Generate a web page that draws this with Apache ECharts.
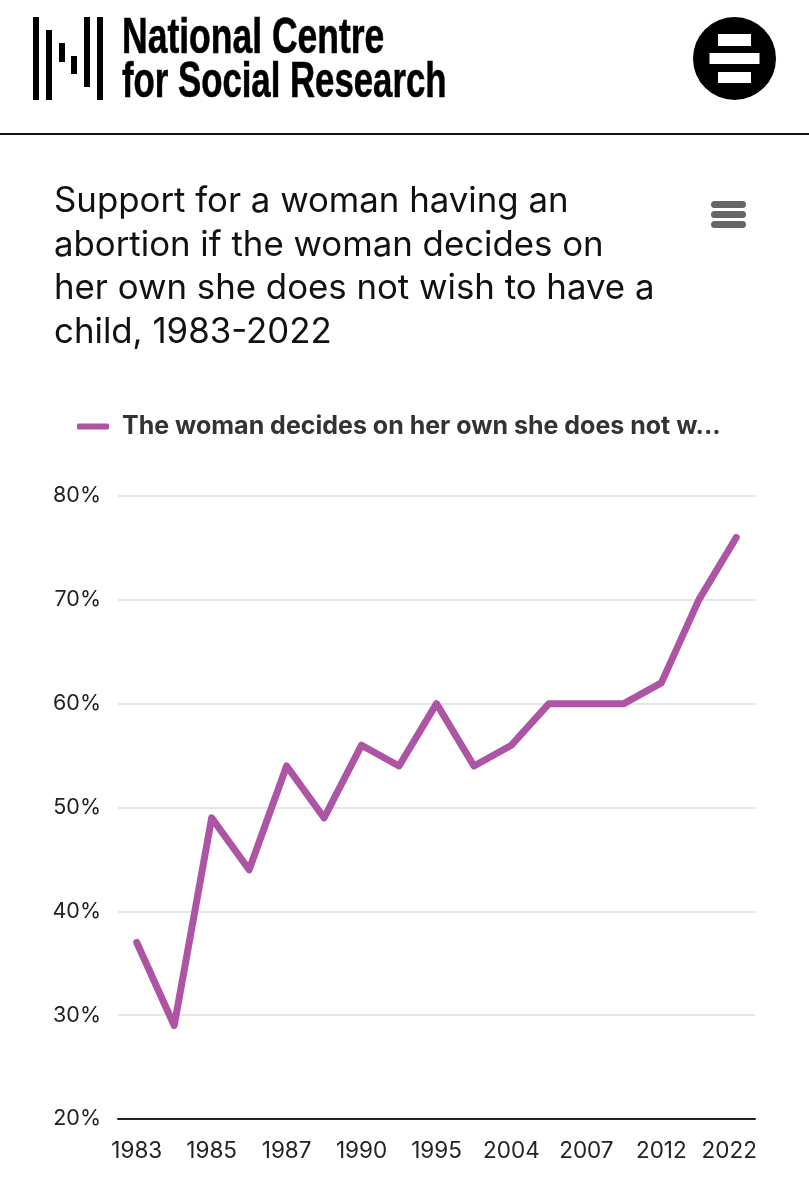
<!DOCTYPE html>
<html>
<head>
<meta charset="utf-8">
<style>html,body{margin:0;padding:0;background:#fff}#c{width:809px;height:1200px}</style>
<script src="https://cdn.jsdelivr.net/npm/echarts@6/dist/echarts.min.js"></script>
</head>
<body>
<div id="c"></div>
<script>
const categories = ['1983','1984','1985','1986','1987','1989','1990','1994','1995','1998','2004','2005','2007','2008','2012','2016','2022'];
const values = [37,29,49,44,54,49,56,54,60,54,56,60,60,60,62,70,76];
const seriesName = 'The woman decides on her own she does not wish to have a child';
const titleText = 'Support for a woman having an\nabortion if the woman decides on\nher own she does not wish to have a\nchild, 1983-2022';
const orgLine1 = 'National Centre';
const orgLine2 = 'for Social Research';

const logoBars = [[33,17,6,83],[46,30,6,70],[59,43,6,19],[71,56,6,18],[84,17,6,70],[97,17,6,83]];
const chart = echarts.init(document.getElementById('c'), null, {renderer:'canvas'});
const black = '#000';
const gfx = logoBars.map(b => ({type:'rect', shape:{x:b[0],y:b[1],width:b[2],height:b[3]}, style:{fill:black}}));
gfx.push(
  {type:'text', x:122, y:14, scaleX:0.71, style:{text:orgLine1, font:'bold 50px "Liberation Sans"', fill:black, stroke:black, lineWidth:0.6}},
  {type:'text', x:122, y:58, scaleX:0.695, style:{text:orgLine2, font:'bold 50px "Liberation Sans"', fill:black, stroke:black, lineWidth:0.6}},
  {type:'circle', shape:{cx:734.5,cy:58.5,r:41.5}, style:{fill:black}},
  {type:'rect', shape:{x:718,y:34,width:33,height:12}, style:{fill:'#fff'}},
  {type:'rect', shape:{x:709.5,y:53,width:50,height:11}, style:{fill:'#fff'}},
  {type:'rect', shape:{x:718,y:72,width:33,height:11}, style:{fill:'#fff'}},
  {type:'rect', shape:{x:0,y:133,width:809,height:2}, style:{fill:'#111'}},
  {type:'rect', shape:{x:711,y:201,width:35,height:7,r:3.5}, style:{fill:'#666'}},
  {type:'rect', shape:{x:711,y:211,width:35,height:7,r:3.5}, style:{fill:'#666'}},
  {type:'rect', shape:{x:711,y:221,width:35,height:7,r:3.5}, style:{fill:'#666'}}
);
const lastCategory = categories[categories.length - 1];
chart.setOption({
  animation:false,
  backgroundColor:'#fff',
  title:{text:titleText, left:54, top:180, padding:0,
    textStyle:{fontFamily:'Inter', fontWeight:400, fontSize:34.8, lineHeight:43.6, color:'#111'}},
  legend:{left:77, top:414, padding:0, itemWidth:32, itemHeight:6, itemGap:0,
    icon:'roundRect', data:[seriesName],
    textStyle:{fontFamily:'Inter', fontWeight:700, fontSize:25, color:'#333', width:605, overflow:'truncate', ellipsis:'...', padding:[0,0,0,8]}},
  grid:{left:118, right:54, top:496, bottom:81, containLabel:false},
  xAxis:{type:'category', data:categories, boundaryGap:true,
    axisLine:{lineStyle:{color:'#222', width:2}}, axisTick:{show:false},
    axisLabel:{interval:1, margin:21, fontFamily:'Inter', fontSize:22.5, color:'#222',
      formatter:function(v){ return v === lastCategory ? '{last|' + v + '}' : v; },
      rich:{last:{fontFamily:'Inter', fontSize:22.5, color:'#222', padding:[0,14,0,0]}}}},
  yAxis:{type:'value', min:20, max:80, interval:10,
    axisLine:{show:false}, axisTick:{show:false},
    axisLabel:{margin:17, formatter:'{value}%', fontFamily:'Inter', fontSize:21.5, color:'#222'},
    splitLine:{lineStyle:{color:'#e6e6e6', width:2}}},
  series:[{name:seriesName, type:'line', data:values, symbol:'none', smooth:false,
    lineStyle:{color:'#ae54a4', width:7, cap:'round', join:'round'}, itemStyle:{color:'#ae54a4'}}],
  graphic:gfx
});
</script>
</body>
</html>
